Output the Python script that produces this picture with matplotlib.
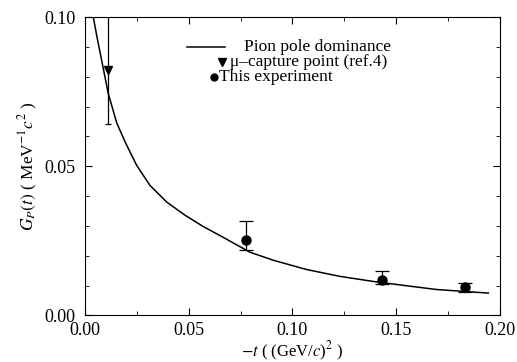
import matplotlib.pyplot as plt
from matplotlib.ticker import MultipleLocator, FormatStrFormatter

plt.rcParams['font.family'] = ['Liberation Serif', 'DejaVu Serif']
plt.rcParams['mathtext.fontset'] = 'stix'

# pion pole dominance curve
curve_t = [0.0040, 0.0060, 0.0080, 0.0112, 0.0153, 0.0193, 0.0249, 0.0313,
           0.0394, 0.0482, 0.0570, 0.0650, 0.0795, 0.0908, 0.1068, 0.1229,
           0.1390, 0.1534, 0.1695, 0.1944]
curve_g = [0.100, 0.0925, 0.0856, 0.0744, 0.0645, 0.0582, 0.0503, 0.0436,
           0.0380, 0.0336, 0.0298, 0.0268, 0.0212, 0.0185, 0.0154, 0.0131,
           0.0114, 0.0101, 0.0087, 0.0075]

# mu-capture point
mu_t = [0.0112]
mu_g = [0.0822]
mu_err = [0.018]

# this experiment
exp_t = [0.0774, 0.1430, 0.1831]
exp_g = [0.0254, 0.0120, 0.0095]
exp_err_lo = [0.0036, 0.0014, 0.0015]
exp_err_hi = [0.0062, 0.0028, 0.0015]

fig = plt.figure(figsize=(5.17, 3.62), dpi=100)
ax = fig.add_axes([0.1644, 0.1285, 0.8026, 0.8245])

ax.plot(curve_t, curve_g, color='k', lw=1.1)
ax.errorbar(mu_t, mu_g, yerr=mu_err, fmt='v', color='k', ms=6,
            elinewidth=0.9, capsize=2.5, capthick=0.9)
ax.errorbar(exp_t, exp_g, yerr=[exp_err_lo, exp_err_hi], fmt='o', color='k',
            ms=6.5, elinewidth=0.9, capsize=5, capthick=0.9)

ax.set_xlim(0, 0.20)
ax.set_ylim(0, 0.10)
ax.xaxis.set_major_locator(MultipleLocator(0.05))
ax.xaxis.set_minor_locator(MultipleLocator(0.025))
ax.yaxis.set_major_locator(MultipleLocator(0.05))
ax.yaxis.set_minor_locator(MultipleLocator(0.01))
ax.xaxis.set_major_formatter(FormatStrFormatter('%.2f'))
ax.yaxis.set_major_formatter(FormatStrFormatter('%.2f'))
ax.tick_params(which='both', direction='in', top=True, right=True, labelsize=13)
ax.tick_params(which='major', length=5)
ax.tick_params(which='minor', length=3)
ax.tick_params(axis='x', pad=5)
ax.tick_params(axis='y', pad=7)

ax.set_xlabel(r'$-t$ ( (GeV/$c$)$^2$ )', fontsize=12, labelpad=0)
ax.set_ylabel(r'$G_P(t)$ ( MeV$^{-1}$$c^{2}$ )', fontsize=12.5, labelpad=3)

# legend drawn by hand, it is laid out irregularly
tr = ax.transAxes
ax.plot([0.245, 0.337], [0.90, 0.90], color='k', lw=1.1, transform=tr)
ax.text(0.383, 0.90, 'Pion pole dominance', transform=tr, va='center', fontsize=12.5)
ax.plot([0.329], [0.85], marker='v', color='k', ms=6, transform=tr)
ax.text(0.35, 0.85, '\u03bc\u2013capture point (ref.4)', transform=tr, va='center', fontsize=12.5)
ax.plot([0.311], [0.80], marker='o', color='k', ms=5, transform=tr)
ax.text(0.322, 0.80, 'This experiment', transform=tr, va='center', fontsize=12.5)

fig.savefig('out.png', dpi=100)
